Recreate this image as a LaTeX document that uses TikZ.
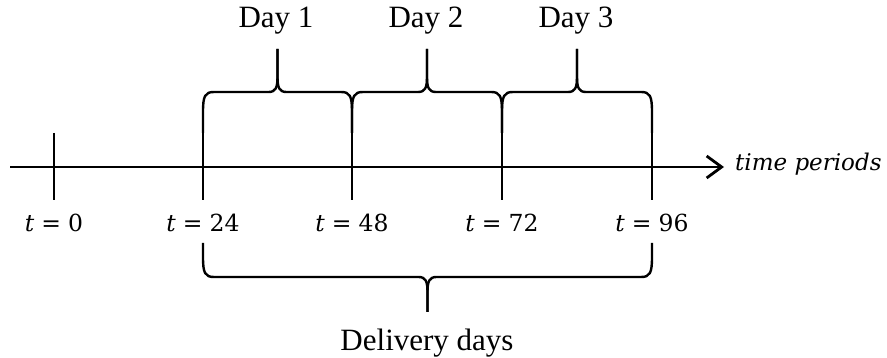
\documentclass[tikz,border=0pt]{standalone}
\usepackage{fontspec}
\setmainfont{Liberation Serif}
\newfontfamily\mfont{DejaVu Serif}
\usetikzlibrary{arrows.meta}
\newcommand\tlab[1]{{\mfont\fontsize{23.5}{27}\selectfont\itshape t\upshape\hspace{0.3em}=\hspace{0.3em}#1}}
% brace: xa, xb, yend, yh, ytip, s
\newcommand\mybrace[6]{%
  \pgfmathsetmacro\xm{(#1+#2)/2}%
  \draw[bracestyle] (#1,#3) -- (#1,{#4-#6*20}) .. controls (#1,{#4-#6*4}) and ({#1+2},#4) .. ({#1+11},#4)
     -- ({\xm-9},#4) .. controls ({\xm-2},#4) and (\xm,{#4+#6*4}) .. (\xm,{#4+#6*15}) -- (\xm,#5);
  \draw[bracestyle] (#2,#3) -- (#2,{#4-#6*20}) .. controls (#2,{#4-#6*4}) and ({#2-2},#4) .. ({#2-11},#4)
     -- ({\xm+9},#4) .. controls ({\xm+2},#4) and (\xm,{#4+#6*4}) .. (\xm,{#4+#6*15}) -- (\xm,#5);
}
\begin{document}
\begin{tikzpicture}[x=1pt,y=-1pt,
  axisline/.style={line width=2.8pt},
  tickline/.style={line width=2.8pt},
  bracestyle/.style={line width=2.4pt, line join=round},
  daylabel/.style={font=\fontsize{31}{36}\selectfont, anchor=base, inner sep=0pt},
  tlabel/.style={anchor=base, inner sep=0pt}]
\useasboundingbox (0,0) rectangle (887,358);
% axis
\coordinate (start) at (10,167);
\coordinate (tip) at (724,167);
\draw[axisline,-{Straight Barb[length=15pt,width=22pt]}] (start) -- (tip);
\node[anchor=base west, inner sep=0pt, font=\mfont\itshape\fontsize{23}{27}\selectfont] (tp) at (735,171) {time periods};
% ticks
\foreach \n/\x/\v in {a/54/0, b/203/24, c/352/48, d/502/72, e/652/96}{
  \coordinate (top\n) at (\x,133);
  \coordinate (bot\n) at (\x,200);
  \draw[tickline] (top\n) -- (bot\n);
  \node[tlabel] (lab\n) at (\x,232) {\tlab{\v}};
}
% day braces
\mybrace{203}{352}{133}{92}{49}{-1}
\mybrace{352}{502}{133}{92}{49}{-1}
\mybrace{502}{652}{133}{92}{49}{-1}
\node[daylabel] (d1) at (276,28) {Day 1};
\node[daylabel] (d2) at (426,28) {Day 2};
\node[daylabel] (d3) at (576,28) {Day 3};
% delivery brace
\mybrace{203}{652}{243}{277}{312}{1}
\node[daylabel] (dd) at (427,350) {Delivery days};
\end{tikzpicture}
\end{document}
